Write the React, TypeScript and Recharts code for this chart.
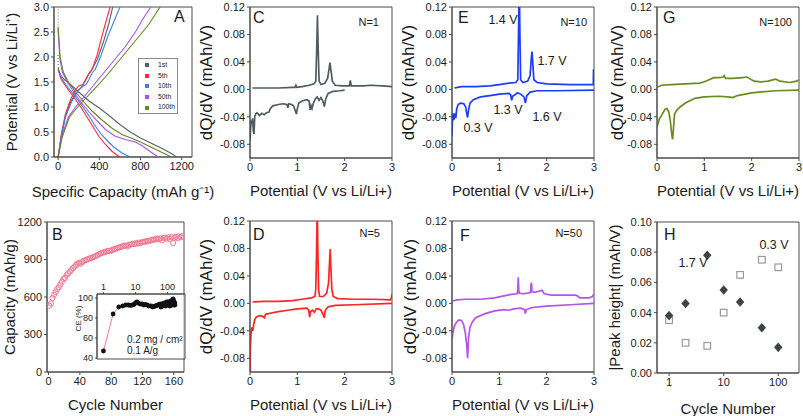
import React from 'react';
import {
  LineChart, Line, XAxis, YAxis, ReferenceArea, ScatterChart, Scatter, Legend,
} from 'recharts';

const FONT = '"Liberation Sans", Arial, Helvetica, sans-serif';
const AX = '#4a4a4a';
const TXT = '#1b1b1b';

type Pair = [number, number];
const toPts = (a: Pair[]) => a.map(([x, y]) => ({ x, y }));

// ---------------- Panel A: voltage profiles ----------------
const cycleNames = ['1st', '5th', '10th', '50th', '100th'];
const cycleColors = ['#55646a', '#ff2b3a', '#3f7fe2', '#b04ef0', '#5f8b1f'];

const disch1: Pair[] = [[0, 1.78], [20, 1.65], [60, 1.55], [120, 1.45], [200, 1.3], [300, 1.12], [400, 0.98], [500, 0.82], [600, 0.65], [700, 0.5], [800, 0.38], [900, 0.28], [1000, 0.18], [1100, 0.07], [1150, 0]];
const charge1: Pair[] = [[0, 0], [30, 0.4], [70, 0.8], [120, 1.1], [180, 1.3], [230, 1.4], [280, 1.6], [320, 1.72], [380, 1.95], [440, 2.3], [490, 2.65], [530, 3.0]];
const disch5: Pair[] = [[0, 1.75], [30, 1.55], [80, 1.4], [150, 1.2], [220, 1.0], [280, 0.8], [340, 0.6], [400, 0.4], [460, 0.25], [520, 0.12], [570, 0.04], [600, 0]];
const charge5: Pair[] = [[0, 0], [30, 0.45], [70, 0.85], [120, 1.15], [170, 1.35], [200, 1.42], [240, 1.45], [270, 1.55], [300, 1.68], [330, 1.75], [380, 2.05], [430, 2.45], [470, 2.75], [505, 3.0]];
const disch10: Pair[] = [[0, 1.75], [40, 1.55], [100, 1.38], [170, 1.2], [240, 1.0], [300, 0.82], [360, 0.62], [420, 0.45], [480, 0.32], [540, 0.2], [620, 0.08], [700, 0]];
const charge10: Pair[] = [[0, 0], [30, 0.4], [70, 0.8], [130, 1.1], [190, 1.32], [230, 1.4], [270, 1.45], [300, 1.55], [330, 1.68], [360, 1.75], [420, 2.05], [480, 2.4], [540, 2.7], [600, 3.0]];
const disch50: Pair[] = [[0, 2.55], [15, 2.0], [40, 1.7], [90, 1.5], [150, 1.3], [220, 1.1], [300, 0.9], [380, 0.72], [460, 0.55], [550, 0.42], [650, 0.35], [750, 0.3], [820, 0.22], [900, 0.1], [970, 0]];
const charge50: Pair[] = [[0, 0], [40, 0.45], [100, 0.8], [170, 1.0], [250, 1.2], [350, 1.45], [450, 1.7], [550, 1.95], [650, 2.2], [750, 2.5], [820, 2.75], [900, 3.0]];
const disch100: Pair[] = [[0, 2.6], [20, 2.0], [50, 1.7], [100, 1.5], [170, 1.3], [250, 1.1], [330, 0.92], [420, 0.75], [520, 0.58], [620, 0.45], [720, 0.37], [800, 0.3], [900, 0.2], [1000, 0.1], [1100, 0]];
const charge100: Pair[] = [[0, 0], [40, 0.4], [110, 0.8], [190, 1.0], [280, 1.2], [380, 1.42], [480, 1.65], [580, 1.9], [680, 2.15], [780, 2.4], [880, 2.65], [990, 3.0]];
const restGray: Pair[] = [[0, 1.78], [0, 2.05]];
const restGreen: Pair[] = [[0, 2.45], [0, 2.95]];

const dischargeA = [disch1, disch5, disch10, disch50, disch100];
const chargeA = [charge1, charge5, charge10, charge50, charge100];

// ---------------- Panel B: capacity vs cycle ----------------
const bCycles = [1, 3, 5, 7, 9, 11, 13, 15, 17, 19, 21, 23, 25, 27, 29, 31, 33, 35, 37, 39, 41, 43, 45, 47, 49, 51, 53, 55, 57, 59, 61, 63, 65, 67, 69, 71, 73, 75, 77, 79, 81, 83, 85, 87, 89, 91, 93, 95, 97, 99, 101, 103, 105, 107, 109, 111, 113, 115, 117, 119, 121, 123, 125, 127, 129, 131, 133, 135, 137, 139, 141, 143, 145, 147, 149, 151, 153, 155, 157, 159, 161, 163, 165, 167, 169, 171];
const bCapacity = [530, 548, 592, 618, 640, 662, 678, 700, 722, 745,
  752, 776, 790, 802, 815, 830, 842, 856, 868, 872,
  866, 880, 889, 894, 900, 904, 910, 913, 919, 925,
  931, 936, 944, 950, 954, 958, 963, 966, 970, 967,
  975, 981, 985, 989, 994, 998, 1001, 1006, 1010, 1012,
  1004, 1018, 1021, 1026, 1022, 1030, 1027, 1035, 1031, 1038,
  1041, 1045, 1042, 1050, 1048, 1055, 1060, 1057, 1065, 1068,
  1062, 1070, 1056, 1072, 1075, 1067, 1078, 1064, 1080, 1032,
  1075, 1082, 1070, 1085, 1078, 1088];
const capPts = bCycles.map((x, i) => ({ x, y: bCapacity[i] }));

// inset: coulombic efficiency
const ceCycles = [1, 2, 3, 4, 5, 6, 7, 8, 9, 10, 11, 12, 14, 16, 18, 20, 23, 26, 30, 34, 38, 42, 46, 50, 55, 60, 62, 65, 70, 72, 75, 80, 85, 88, 90, 95, 100, 102, 105, 110, 115, 118, 120, 125, 128, 130, 135, 138, 140, 145, 148, 150, 155, 158, 160, 165, 168, 170];
const ceValues = [47, 84, 91, 92, 93, 93, 92.5, 93, 93.5, 95, 96, 95, 94, 94, 93, 93.5, 93, 92, 92, 91, 91.5, 92, 92.5, 93, 93.5, 94, 91, 93, 94, 92, 94.5, 95, 94, 92, 95, 96, 95, 93, 96, 95, 94, 92, 96, 97, 93, 95, 96, 93, 97, 98, 94, 99, 97, 93, 96, 94, 95, 93];
const cePts = ceCycles.map((x, i) => ({ x, y: ceValues[i] }));
const ceHead = cePts.slice(0, 3);

// ---------------- dQ/dV panels ----------------
const c1Charge: Pair[] = [[0.05, 0.002], [0.3, 0.002], [0.6, 0.002], [0.9, 0.003], [0.95, 0.003], [0.97, 0.006], [0.99, 0.003], [1.1, 0.004], [1.25, 0.006], [1.35, 0.008], [1.39, 0.012], [1.41, 0.06], [1.425, 0.108], [1.44, 0.06], [1.46, 0.012], [1.5, 0.007], [1.58, 0.009], [1.64, 0.016], [1.67, 0.03], [1.69, 0.039], [1.71, 0.028], [1.74, 0.012], [1.8, 0.006], [1.95, 0.005], [2.1, 0.005], [2.12, 0.013], [2.14, 0.005], [2.4, 0.005], [2.55, 0.006], [2.8, 0.005], [3.0, 0.004]];
const c1Discharge: Pair[] = [[0.0, -0.075], [0.01, -0.06], [0.025, -0.045], [0.04, -0.05], [0.055, -0.042], [0.07, -0.06], [0.085, -0.065], [0.1, -0.04], [0.12, -0.036], [0.15, -0.034], [0.2, -0.038], [0.25, -0.035], [0.3, -0.037], [0.35, -0.034], [0.4, -0.033], [0.43, -0.028], [0.48, -0.024], [0.6, -0.022], [0.7, -0.021], [0.78, -0.022], [0.8, -0.027], [0.82, -0.021], [0.88, -0.022], [0.92, -0.024], [0.96, -0.032], [0.98, -0.036], [1.0, -0.028], [1.03, -0.02], [1.1, -0.017], [1.2, -0.015], [1.25, -0.017], [1.27, -0.03], [1.29, -0.024], [1.31, -0.028], [1.34, -0.02], [1.38, -0.014], [1.42, -0.011], [1.46, -0.016], [1.5, -0.012], [1.54, -0.017], [1.57, -0.025], [1.6, -0.014], [1.65, -0.006], [1.75, -0.003], [1.9, -0.002], [2.0, -0.001]];

const c5Charge: Pair[] = [[0.05, 0.002], [0.3, 0.003], [0.6, 0.003], [0.9, 0.004], [1.1, 0.006], [1.3, 0.008], [1.37, 0.01], [1.39, 0.02], [1.41, 0.09], [1.42, 0.15], [1.43, 0.09], [1.45, 0.02], [1.47, 0.01], [1.55, 0.01], [1.62, 0.015], [1.66, 0.03], [1.68, 0.06], [1.695, 0.079], [1.71, 0.05], [1.73, 0.02], [1.76, 0.01], [1.85, 0.007], [2.2, 0.006], [2.6, 0.006], [2.97, 0.005], [2.99, 0.009], [3.0, 0.014]];
const c5Discharge: Pair[] = [[0.0, -0.11], [0.008, -0.07], [0.02, -0.045], [0.04, -0.035], [0.06, -0.04], [0.08, -0.03], [0.1, -0.024], [0.13, -0.02], [0.2, -0.018], [0.27, -0.019], [0.3, -0.021], [0.33, -0.016], [0.45, -0.014], [0.6, -0.012], [0.8, -0.01], [1.0, -0.008], [1.2, -0.007], [1.24, -0.01], [1.26, -0.02], [1.28, -0.012], [1.32, -0.01], [1.36, -0.013], [1.4, -0.008], [1.45, -0.008], [1.5, -0.01], [1.55, -0.017], [1.57, -0.021], [1.59, -0.01], [1.65, -0.005], [1.8, -0.003], [2.2, -0.002], [3.0, 0.0]];

const c10Charge: Pair[] = [[0.05, 0.002], [0.2, 0.004], [0.5, 0.004], [0.8, 0.005], [1.0, 0.007], [1.2, 0.009], [1.35, 0.01], [1.39, 0.014], [1.405, 0.08], [1.42, 0.16], [1.435, 0.08], [1.45, 0.014], [1.5, 0.01], [1.6, 0.012], [1.65, 0.02], [1.675, 0.045], [1.69, 0.055], [1.705, 0.04], [1.73, 0.014], [1.8, 0.01], [2.0, 0.008], [2.5, 0.007], [2.985, 0.007], [2.99, 0.028], [3.0, 0.028]];
const c10Discharge: Pair[] = [[0.0, -0.068], [0.01, -0.045], [0.02, -0.035], [0.04, -0.045], [0.06, -0.035], [0.08, -0.042], [0.1, -0.028], [0.13, -0.022], [0.18, -0.02], [0.25, -0.021], [0.29, -0.026], [0.31, -0.035], [0.33, -0.041], [0.35, -0.03], [0.38, -0.02], [0.45, -0.015], [0.6, -0.011], [0.8, -0.009], [1.0, -0.007], [1.2, -0.006], [1.24, -0.008], [1.26, -0.016], [1.28, -0.01], [1.33, -0.008], [1.38, -0.005], [1.45, -0.007], [1.52, -0.011], [1.55, -0.02], [1.58, -0.009], [1.65, -0.004], [1.8, -0.002], [2.2, -0.002], [3.0, -0.001]];

const c50Charge: Pair[] = [[0.0, 0.003], [0.1, 0.005], [0.3, 0.006], [0.6, 0.006], [0.9, 0.008], [1.1, 0.011], [1.25, 0.013], [1.38, 0.014], [1.39, 0.02], [1.4, 0.038], [1.41, 0.02], [1.42, 0.015], [1.5, 0.014], [1.6, 0.015], [1.66, 0.016], [1.67, 0.028], [1.68, 0.03], [1.69, 0.017], [1.75, 0.016], [1.85, 0.018], [1.9, 0.019], [1.95, 0.014], [2.1, 0.012], [2.4, 0.012], [2.6, 0.012], [2.65, 0.011], [2.7, 0.008], [2.9, 0.008], [2.97, 0.01], [3.0, 0.014]];
const c50Discharge: Pair[] = [[0.0, -0.053], [0.02, -0.042], [0.05, -0.033], [0.1, -0.027], [0.15, -0.024], [0.2, -0.025], [0.24, -0.03], [0.28, -0.042], [0.31, -0.06], [0.33, -0.08], [0.35, -0.05], [0.38, -0.035], [0.43, -0.027], [0.5, -0.021], [0.7, -0.015], [0.9, -0.011], [1.1, -0.009], [1.2, -0.01], [1.3, -0.008], [1.45, -0.007], [1.53, -0.009], [1.55, -0.015], [1.57, -0.009], [1.7, -0.006], [2.0, -0.004], [2.5, -0.002], [3.0, 0.0]];

const c100Charge: Pair[] = [[0.0, 0.003], [0.1, 0.006], [0.3, 0.007], [0.6, 0.008], [0.9, 0.009], [1.0, 0.011], [1.1, 0.014], [1.2, 0.017], [1.3, 0.017], [1.4, 0.018], [1.42, 0.02], [1.45, 0.016], [1.6, 0.016], [1.8, 0.017], [1.9, 0.018], [1.95, 0.016], [2.05, 0.012], [2.2, 0.011], [2.35, 0.012], [2.5, 0.015], [2.6, 0.012], [2.8, 0.01], [2.95, 0.012], [3.0, 0.014]];
const c100Discharge: Pair[] = [[0.0, -0.055], [0.02, -0.05], [0.05, -0.043], [0.08, -0.04], [0.12, -0.035], [0.17, -0.029], [0.21, -0.028], [0.25, -0.033], [0.28, -0.045], [0.31, -0.065], [0.33, -0.073], [0.35, -0.055], [0.37, -0.036], [0.42, -0.03], [0.5, -0.025], [0.6, -0.02], [0.8, -0.013], [1.0, -0.011], [1.3, -0.01], [1.5, -0.011], [1.6, -0.012], [1.7, -0.009], [2.0, -0.005], [2.5, -0.002], [3.0, -0.001]];

const dqTicks = [-0.08, -0.04, 0, 0.04, 0.08, 0.12];

// ---------------- Panel H ----------------
const hCycles = [1, 2, 5, 10, 20, 50, 100];
const peak17 = [0.038, 0.046, 0.078, 0.055, 0.047, 0.030, 0.017];
const peak03 = [0.035, 0.020, 0.018, 0.040, 0.065, 0.075, 0.070];
const peak17Pts = hCycles.map((x, i) => ({ x, y: peak17[i] }));
const peak03Pts = hCycles.map((x, i) => ({ x, y: peak03[i] }));

// ---------------- layout helpers ----------------
type Box = { l: number; r: number; t: number; b: number };
const PAD_T = 11;
const PAD_B = 46;
function geom(box: Box, chartLeft: number, padR = 6) {
  const yW = box.l - chartLeft;
  return {
    top: box.t - PAD_T,
    style: { position: 'absolute' as const, left: chartLeft, top: box.t - PAD_T },
    width: yW + (box.r - box.l) + padR,
    height: PAD_T + (box.b - box.t) + PAD_B,
    margin: { top: PAD_T, right: padR, left: 0, bottom: 0 },
    yW,
  };
}

const tickStyle = { fontSize: 11, fill: TXT };
const axisLine = { stroke: AX };
const yTitle = (value: string, offset: number, fontSize = 15) => ({
  value, angle: -90, position: 'insideLeft' as const, offset,
  style: { textAnchor: 'middle' as const, fontSize, fill: TXT },
});
const xTitle = (value: string, offset: number, fontSize = 15) => ({
  value, position: 'insideBottom' as const, offset,
  style: { fontSize, fill: TXT },
});

const BOX_A: Box = { l: 54, r: 192, t: 7, b: 157 };
const BOX_B: Box = { l: 47, r: 184, t: 222, b: 372 };
const BOX_C: Box = { l: 250, r: 392, t: 7, b: 158 };
const BOX_D: Box = { l: 250, r: 392, t: 221, b: 372 };
const BOX_E: Box = { l: 452, r: 594, t: 7, b: 158 };
const BOX_F: Box = { l: 452, r: 594, t: 221, b: 372 };
const BOX_G: Box = { l: 657, r: 799, t: 7, b: 158 };
const BOX_H: Box = { l: 657, r: 799, t: 222, b: 373 };

const renderLegend = () => (
  <div style={{ border: '1px solid #8a8a8a', background: '#fff', padding: '1px 0px 0px 6px', fontSize: 6.8, lineHeight: '10.6px', color: TXT, boxSizing: 'border-box', width: 40, height: 56, whiteSpace: 'nowrap' }}>
    {cycleNames.map((name, i) => (
      <div key={name} style={{ display: 'flex', alignItems: 'center', height: 10.6 }}>
        <span style={{ width: 4, height: 4, background: cycleColors[i], display: 'inline-block', marginRight: 9, flex: 'none' }} />
        <span>{name}</span>
      </div>
    ))}
  </div>
);

function PanelA() {
  const g = geom(BOX_A, 0, 24);
  return (
    <div style={g.style}>
      <LineChart width={g.width} height={g.height} margin={g.margin}>
        <XAxis type="number" dataKey="x" domain={[-40, 1300]} ticks={[0, 400, 800, 1200]} interval={0} allowDataOverflow height={PAD_B}
          tick={tickStyle} tickSize={3} axisLine={axisLine} tickLine={axisLine}
          label={xTitle('Specific Capacity (mAh g⁻¹)', 6)} />
        <YAxis type="number" domain={[0, 3]} ticks={[0, 0.5, 1, 1.5, 2, 2.5, 3]} interval={0} tickFormatter={(v: number) => v.toFixed(1)}
          allowDataOverflow width={g.yW} tick={tickStyle} tickSize={3} axisLine={axisLine} tickLine={axisLine}
          label={yTitle('Potential (V vs Li/Li⁺)', 12, 15)} />
        <ReferenceArea x1={-40} x2={1300} y1={0} y2={3} fill="none" stroke={AX} ifOverflow="visible" />
        <Line data={toPts(restGray)} dataKey="y" stroke={cycleColors[0]} strokeDasharray="1 2" dot={false} legendType="none" isAnimationActive={false} />
        <Line data={toPts(restGreen)} dataKey="y" stroke={cycleColors[4]} strokeDasharray="1 2" dot={false} legendType="none" isAnimationActive={false} />
        {dischargeA.map((d, i) => (
          <Line key={'d' + i} data={toPts(d)} dataKey="y" name={cycleNames[i]} stroke={cycleColors[i]} strokeWidth={1.1}
            dot={false} isAnimationActive={false} legendType="square" />
        ))}
        {chargeA.map((d, i) => (
          <Line key={'c' + i} data={toPts(d)} dataKey="y" name={cycleNames[i] + ' charge'} stroke={cycleColors[i]} strokeWidth={1.1}
            dot={false} isAnimationActive={false} legendType="none" />
        ))}
        <Legend layout="vertical" align="center" verticalAlign="middle"
          wrapperStyle={{ left: 138, top: 58 - g.top, width: 40, height: 56 }} content={renderLegend} />
      </LineChart>
    </div>
  );
}

const hollowCircle = (p: any) => <circle cx={p.cx} cy={p.cy} r={2.6} fill="none" stroke="#f07890" strokeWidth={1} />;
const blackDot = (p: any) => <circle cx={p.cx} cy={p.cy} r={2.4} fill="#111" />;
const noShape = (p: any) => <g />;

function PanelB() {
  const g = geom(BOX_B, 0, 6);
  return (
    <div style={g.style}>
      <ScatterChart width={g.width} height={g.height} margin={g.margin}>
        <XAxis type="number" dataKey="x" domain={[-2, 173]} ticks={[0, 40, 80, 120, 160]} interval={0} allowDataOverflow height={PAD_B}
          tick={tickStyle} tickSize={3} axisLine={axisLine} tickLine={axisLine} label={xTitle('Cycle Number', 8)} />
        <YAxis type="number" dataKey="y" domain={[0, 1200]} ticks={[0, 300, 600, 900, 1200]} interval={0} allowDataOverflow width={g.yW}
          tick={tickStyle} tickSize={3} axisLine={axisLine} tickLine={axisLine} label={yTitle('Capacity (mAh/g)', 10, 15)} />
        <ReferenceArea x1={-2} x2={173} y1={0} y2={1200} fill="none" stroke={AX} ifOverflow="visible" />
        <Scatter data={capPts} shape={hollowCircle} isAnimationActive={false} />
      </ScatterChart>
    </div>
  );
}

const INSET: Box = { l: 97, r: 185, t: 294, b: 359 };
function InsetB() {
  const yW = 30;
  const padT = 16;
  const padR = 3;
  const padB = 6;
  const inTick = { fontSize: 9, fill: TXT };
  return (
    <div style={{ position: 'absolute', left: INSET.l - yW, top: INSET.t - padT }}>
      <ScatterChart width={yW + (INSET.r - INSET.l) + padR} height={padT + (INSET.b - INSET.t) + padB}
        margin={{ top: 0, right: padR, left: 0, bottom: padB }}>
        <XAxis type="number" dataKey="x" scale="log" domain={[0.63, 350]} ticks={[1, 10, 100]} interval={0} orientation="top" height={padT}
          allowDataOverflow tick={inTick} tickSize={2} axisLine={axisLine} tickLine={axisLine} />
        <YAxis type="number" dataKey="y" domain={[39, 104]} ticks={[40, 60, 80, 100]} interval={0} width={yW} allowDataOverflow
          tick={inTick} tickSize={2} axisLine={axisLine} tickLine={axisLine}
          label={{ value: 'CE (%)', angle: -90, position: 'insideLeft', offset: 11, dy: -8, style: { textAnchor: 'middle', fontSize: 8, fill: TXT } }} />
        <ReferenceArea x1={0.63} x2={350} y1={39} y2={104} fill="#fff" stroke={AX} ifOverflow="visible" />
        <Scatter data={ceHead} line={{ stroke: '#f37a92', strokeWidth: 1 }} shape={noShape} isAnimationActive={false} />
        <Scatter data={cePts} shape={blackDot} isAnimationActive={false} />
      </ScatterChart>
    </div>
  );
}

function DqPanel({ box, chartLeft, charge, discharge, color, tOff }: {
  box: Box; chartLeft: number; charge: Pair[]; discharge: Pair[]; color: string; tOff: number;
}) {
  const g = geom(box, chartLeft, 6);
  return (
    <div style={g.style}>
      <LineChart width={g.width} height={g.height} margin={g.margin}>
        <XAxis type="number" dataKey="x" domain={[0, 3]} ticks={[0, 1, 2, 3]} interval={0} allowDataOverflow height={PAD_B}
          tick={tickStyle} tickSize={3} axisLine={axisLine} tickLine={axisLine} label={xTitle('Potential (V vs Li/Li+)', 8)} />
        <YAxis type="number" domain={[-0.1, 0.12]} ticks={dqTicks} interval={0} tickFormatter={(v: number) => v.toFixed(2)}
          allowDataOverflow width={g.yW} tick={tickStyle} tickSize={3} axisLine={axisLine} tickLine={axisLine}
          label={yTitle('dQ/dV (mAh/V)', tOff, 17)} />
        <ReferenceArea x1={0} x2={3} y1={-0.1} y2={0.12} fill="none" stroke={AX} ifOverflow="visible" />
        <Line data={toPts(charge)} dataKey="y" stroke={color} strokeWidth={1.7} dot={false} isAnimationActive={false} />
        <Line data={toPts(discharge)} dataKey="y" stroke={color} strokeWidth={1.7} dot={false} isAnimationActive={false} />
      </LineChart>
    </div>
  );
}

const diamond = (p: any) => (
  <polygon points={`${p.cx},${p.cy - 4.8} ${p.cx + 4.2},${p.cy} ${p.cx},${p.cy + 4.8} ${p.cx - 4.2},${p.cy}`} fill="#3b4549" />
);
const square = (p: any) => (
  <rect x={p.cx - 3.3} y={p.cy - 3.3} width={6.6} height={6.6} fill="#fff" stroke="#9a9a9a" strokeWidth={1.2} />
);

function PanelH() {
  const g = geom(BOX_H, 602, 3);
  return (
    <div style={g.style}>
      <ScatterChart width={g.width} height={g.height} margin={g.margin}>
        <XAxis type="number" dataKey="x" scale="log" domain={[0.6, 240]} ticks={[1, 10, 100]} interval={0} allowDataOverflow height={PAD_B}
          tick={tickStyle} tickSize={3} axisLine={axisLine} tickLine={axisLine} label={xTitle('Cycle Number', 5)} />
        <YAxis type="number" dataKey="y" domain={[0, 0.1]} ticks={[0, 0.02, 0.04, 0.06, 0.08, 0.1]} interval={0} tickFormatter={(v: number) => v.toFixed(2)}
          allowDataOverflow width={g.yW} tick={tickStyle} tickSize={3} axisLine={axisLine} tickLine={axisLine}
          label={yTitle('|Peak height| (mAh/V)', 13, 15)} />
        <ReferenceArea x1={0.6} x2={240} y1={0} y2={0.1} fill="none" stroke={AX} ifOverflow="visible" />
        <Scatter data={peak03Pts} shape={square} isAnimationActive={false} />
        <Scatter data={peak17Pts} shape={diamond} isAnimationActive={false} />
      </ScatterChart>
    </div>
  );
}

function Tx({ x, y, size, anchor = 'start', children }: { x: number; y: number; size: number; anchor?: 'start' | 'middle' | 'end'; children: React.ReactNode }) {
  const tr = anchor === 'end' ? 'translateX(-100%)' : anchor === 'middle' ? 'translateX(-50%)' : undefined;
  return (
    <div style={{ position: 'absolute', left: x, top: y - 0.49 * size, fontSize: size, lineHeight: 1, whiteSpace: 'nowrap', color: TXT, transform: tr }}>
      {children}
    </div>
  );
}

export default function App() {
  return (
    <div style={{ position: 'absolute', left: 0, top: 0, width: 803, height: 416, overflow: 'hidden', background: '#fff', fontFamily: FONT }}>
      <PanelA />
      <PanelB />
      <InsetB />
      <DqPanel box={BOX_C} chartLeft={192} charge={c1Charge} discharge={c1Discharge} color="#4f5d63" tOff={14} />
      <DqPanel box={BOX_D} chartLeft={192} charge={c5Charge} discharge={c5Discharge} color="#ff2424" tOff={14} />
      <DqPanel box={BOX_E} chartLeft={397} charge={c10Charge} discharge={c10Discharge} color="#1e3cff" tOff={11} />
      <DqPanel box={BOX_F} chartLeft={397} charge={c50Charge} discharge={c50Discharge} color="#b553e8" tOff={13} />
      <DqPanel box={BOX_G} chartLeft={602} charge={c100Charge} discharge={c100Discharge} color="#6a8c1e" tOff={15} />
      <PanelH />

      <Tx x={174} y={17} size={16}>A</Tx>
      <Tx x={52} y={235} size={16}>B</Tx>
      <Tx x={253} y={17.5} size={16}>C</Tx>
      <Tx x={253} y={235} size={16}>D</Tx>
      <Tx x={458} y={17.5} size={16}>E</Tx>
      <Tx x={460} y={236} size={16}>F</Tx>
      <Tx x={663} y={17.5} size={16}>G</Tx>
      <Tx x={664} y={235} size={16}>H</Tx>

      <Tx x={379} y={22} size={11} anchor="end">N=1</Tx>
      <Tx x={380} y={233} size={11} anchor="end">N=5</Tx>
      <Tx x={587} y={22} size={11} anchor="end">N=10</Tx>
      <Tx x={582} y={233} size={11} anchor="end">N=50</Tx>
      <Tx x={792} y={22} size={11} anchor="end">N=100</Tx>

      <Tx x={503} y={20} size={12.5} anchor="middle">1.4 V</Tx>
      <Tx x={552} y={61} size={12.5} anchor="middle">1.7 V</Tx>
      <Tx x={508} y={110} size={12.5} anchor="middle">1.3 V</Tx>
      <Tx x={547} y={117} size={12.5} anchor="middle">1.6 V</Tx>
      <Tx x={478} y={128} size={12.5} anchor="middle">0.3 V</Tx>

      <Tx x={693} y={263} size={12.5} anchor="middle">1.7 V</Tx>
      <Tx x={774} y={245} size={12.5} anchor="middle">0.3 V</Tx>

      <Tx x={127} y={340} size={10}>0.2 mg / cm²</Tx>
      <Tx x={127} y={351} size={10}>0.1 A/g</Tx>
    </div>
  );
}
